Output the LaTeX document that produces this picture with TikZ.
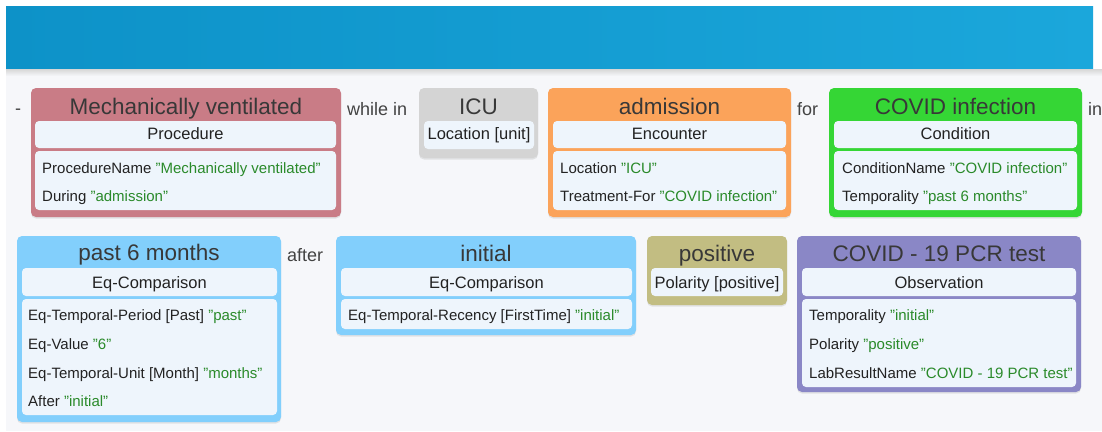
\documentclass[tikz,border=0pt]{standalone}
\usepackage{fontspec}
\setmainfont{Liberation Sans}
\usetikzlibrary{fit,shadows}
\definecolor{bg}{HTML}{F6F7FA}
\definecolor{bannerL}{HTML}{0D92C8}
\definecolor{bannerR}{HTML}{1BA7DB}
\definecolor{cRed}{HTML}{C97C86}
\definecolor{cGray}{HTML}{D4D4D4}
\definecolor{cOrange}{HTML}{FBA35A}
\definecolor{cGreen}{HTML}{35D635}
\definecolor{cBlue}{HTML}{82CFFC}
\definecolor{cKhaki}{HTML}{C2BD82}
\definecolor{cPurple}{HTML}{8A87C6}
\definecolor{inner}{HTML}{EEF5FC}
\definecolor{ink}{HTML}{222222}
\definecolor{grn}{HTML}{2A8A2A}
\begin{document}
\begin{tikzpicture}[x=1pt,y=-1pt,
  card/.style={rounded corners=5pt, inner sep=0pt, draw=none,
    drop shadow={opacity=0.18, shadow xshift=0pt, shadow yshift=-1.5pt}},
  hdrbox/.style={rounded corners=4pt, inner sep=0pt, draw=none, fill=inner},
  ttl/.style={anchor=base, inner sep=0pt, text=ink!90, font=\fontsize{22.5}{24}\selectfont},
  hdr/.style={anchor=base, inner sep=0pt, text=ink, font=\fontsize{16.5}{18}\selectfont},
  body/.style={anchor=base west, inner sep=0pt, text=ink, font=\fontsize{15}{17}\selectfont},
  word/.style={anchor=base west, inner sep=0pt, text=ink!85, font=\fontsize{18}{20}\selectfont}]
\useasboundingbox (0,0) rectangle (1102,431);
\fill[white] (0,0) rectangle (1102,431);
\fill[bg] (6,69) rectangle (1102,431);
\shade[left color=bannerL, right color=bannerR] (6,6) rectangle (1093,69);
\shade[top color=black!16, bottom color=bg] (6,69) rectangle (1102,76);

% ---- row 1 ----
\node[word] (w0) at (15,114.8) {-};

\node[card, fill=cRed, fit={(31,88) (341,217)}] (mv) {};
\node[hdrbox, fit={(35,121) (336,148)}] (mvh) {};
\node[hdrbox, fit={(35,151) (336,210)}] (mvb) {};
\node[ttl] (mvt) at (186,114.5) {Mechanically ventilated};
\node[hdr] (mvc) at (185.5,139.3) {Procedure};
\node[body] (mv1) at (42,173) {ProcedureName \textcolor{grn}{"Mechanically ventilated"}};
\node[body] (mv2) at (42,201) {During \textcolor{grn}{"admission"}};

\node[word] (w1) at (347,115) {while in};

\node[card, fill=cGray, fit={(419,88) (538,158)}] (icu) {};
\node[hdrbox, fit={(424,121) (534,149)}] (icuh) {};
\node[ttl] (icut) at (478.5,114.5) {ICU};
\node[hdr] (icuc) at (479,139.3) {Location [unit]};

\node[card, fill=cOrange, fit={(548,88) (791,217)}] (adm) {};
\node[hdrbox, fit={(553,121) (786,148)}] (admh) {};
\node[hdrbox, fit={(553,151) (786,210)}] (admb) {};
\node[ttl] (admt) at (669.5,114.5) {admission};
\node[hdr] (admc) at (669.5,139.3) {Encounter};
\node[body] (adm1) at (560,173) {Location \textcolor{grn}{"ICU"}};
\node[body] (adm2) at (560,201) {Treatment-For \textcolor{grn}{"COVID infection"}};

\node[word] (w2) at (797,115) {for};

\node[card, fill=cGreen, fit={(829,88) (1082,217)}] (cov) {};
\node[hdrbox, fit={(834,121) (1077,148)}] (covh) {};
\node[hdrbox, fit={(834,151) (1077,210)}] (covb) {};
\node[ttl] (covt) at (955.5,114.5) {COVID infection};
\node[hdr] (covc) at (955.5,139.3) {Condition};
\node[body] (cov1) at (842,173) {ConditionName \textcolor{grn}{"COVID infection"}};
\node[body] (cov2) at (842,201) {Temporality \textcolor{grn}{"past 6 months"}};

\node[word] (w3) at (1088,115) {in};

% ---- row 2 ----
\node[card, fill=cBlue, fit={(17,236) (281,422)}] (p6) {};
\node[hdrbox, fit={(22,268) (277,296)}] (p6h) {};
\node[hdrbox, fit={(22,299) (277,415)}] (p6b) {};
\node[ttl] (p6t) at (149,260.7) {past 6 months};
\node[hdr] (p6c) at (149.5,288.3) {Eq-Comparison};
\node[body] (p61) at (28,320) {Eq-Temporal-Period [Past] \textcolor{grn}{"past"}};
\node[body] (p62) at (28,349) {Eq-Value \textcolor{grn}{"6"}};
\node[body] (p63) at (28,378.3) {Eq-Temporal-Unit [Month] \textcolor{grn}{"months"}};
\node[body] (p64) at (28,406.7) {After \textcolor{grn}{"initial"}};

\node[word] (w4) at (287,261.7) {after};

\node[card, fill=cBlue, fit={(336,236) (636,335)}] (ini) {};
\node[hdrbox, fit={(341,268) (632,296)}] (inih) {};
\node[hdrbox, fit={(341,299) (632,329)}] (inib) {};
\node[ttl] (init) at (486,261) {initial};
\node[hdr] (inic) at (486.5,288.3) {Eq-Comparison};
\node[body] (ini1) at (348,320.7) {Eq-Temporal-Recency [FirstTime] \textcolor{grn}{"initial"}};

\node[card, fill=cKhaki, fit={(647,236) (787,305)}] (pos) {};
\node[hdrbox, fit={(651,268) (783,296)}] (posh) {};
\node[ttl] (post) at (717,261) {positive};
\node[hdr] (posc) at (717,288.3) {Polarity [positive]};

\node[card, fill=cPurple, fit={(797,236) (1081,392)}] (pcr) {};
\node[hdrbox, fit={(802,268) (1076,296)}] (pcrh) {};
\node[hdrbox, fit={(802,299) (1076,387)}] (pcrb) {};
\node[ttl] (pcrt) at (939,261) {COVID - 19 PCR test};
\node[hdr] (pcrc) at (939,288.3) {Observation};
\node[body] (pcr1) at (809,320.7) {Temporality \textcolor{grn}{"initial"}};
\node[body] (pcr2) at (809,349.3) {Polarity \textcolor{grn}{"positive"}};
\node[body] (pcr3) at (809,378.3) {LabResultName \textcolor{grn}{"COVID - 19 PCR test"}};
\end{tikzpicture}
\end{document}
